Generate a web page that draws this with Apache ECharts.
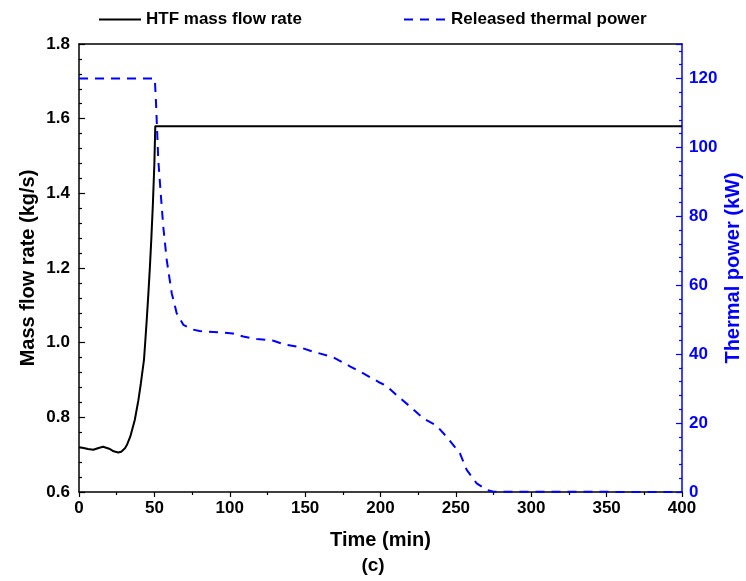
<!DOCTYPE html>
<html>
<head>
<meta charset="utf-8">
<script src="https://cdn.jsdelivr.net/npm/echarts@6/dist/echarts.min.js"></script>
<style>
html,body{margin:0;padding:0;background:#fff;}
#chart{width:746px;height:581px;}
</style>
</head>
<body>
<div id="chart"></div>
<script>
const massTime = [0, 3, 6, 9.5, 13, 16, 20, 23, 26, 28, 30.5, 32, 34, 37, 39.4, 41, 43.1, 44, 45, 46, 47, 48, 49, 50, 50.6, 400];
const massFlow = [0.72, 0.718, 0.715, 0.713, 0.718, 0.721, 0.716, 0.709, 0.706, 0.708, 0.717, 0.728, 0.748, 0.793, 0.846, 0.89, 0.954, 1.005, 1.065, 1.13, 1.2, 1.28, 1.37, 1.48, 1.58, 1.58];
const powerTime = [0, 50, 50.4, 51.1, 52.6, 54.2, 55.9, 58.2, 61.5, 64.8, 69.2, 75, 80, 93.5, 102, 109, 118, 129, 135.5, 146.6, 155.4, 168.7, 180, 188.6, 199.7, 204, 210.7, 219.6, 228.4, 237.3, 243.9, 252.7, 257.2, 263.8, 270.5, 275, 400];
const thermalPower = [120, 120, 119, 112.8, 96.3, 86.7, 77, 67.3, 57.7, 51.9, 48.5, 47.2, 46.7, 46.3, 46.0, 45.1, 44.4, 43.9, 42.9, 42.0, 40.7, 39.1, 36.4, 34.4, 31.7, 30.8, 28.1, 24.8, 21.4, 19.2, 16.0, 11.2, 6.4, 2.5, 0.6, 0.1, 0];
const seriesNames = ['HTF mass flow rate', 'Released thermal power'];
const xTitle = 'Time (min)';
const yLeftTitle = 'Mass flow rate (kg/s)';
const yRightTitle = 'Thermal power (kW)';
const panelLabel = '(c)';

const FONT = '"Liberation Sans", Arial, sans-serif';
const BLUE = '#0000ff';
const chart = echarts.init(document.getElementById('chart'));
const legendText = {fontFamily: FONT, fontWeight: 'bold', fontSize: 17, color: '#000'};
const hiddenSymbol = {color: 'transparent', borderColor: 'transparent', borderWidth: 0, opacity: 0};
chart.setOption({
  animation: false,
  backgroundColor: '#fff',
  textStyle: {fontFamily: FONT},
  grid: {left: 79, right: 64, top: 44, bottom: 89, containLabel: false, outerBoundsMode: 'none'},
  legend: [
    {data: [seriesNames[0]], left: 98, top: 11, padding: 0, itemWidth: 42, itemHeight: 20, itemGap: 6,
     itemStyle: hiddenSymbol, textStyle: legendText},
    {data: [seriesNames[1]], left: 403, top: 11, padding: 0, itemWidth: 42, itemHeight: 20, itemGap: 6,
     itemStyle: hiddenSymbol, textStyle: legendText}
  ],
  xAxis: [
    {type: 'value', min: 0, max: 400, interval: 50, position: 'bottom',
     axisLine: {show: true, lineStyle: {color: '#000', width: 1.5}},
     axisTick: {show: true, inside: false, length: 5, lineStyle: {color: '#000', width: 1.2}},
     minorTick: {show: true, splitNumber: 2, length: 3, lineStyle: {color: '#000', width: 1.2}},
     splitLine: {show: false},
     axisLabel: {fontFamily: FONT, fontWeight: 'bold', fontSize: 17, color: '#000', margin: 8},
     name: xTitle, nameLocation: 'middle', nameGap: 38, nameMoveOverlap: false,
     nameTextStyle: {fontFamily: FONT, fontWeight: 'bold', fontSize: 20, color: '#000'}},
    {type: 'value', min: 0, max: 400, position: 'top',
     axisLine: {show: true, onZero: false, lineStyle: {color: '#000', width: 1.5}},
     axisTick: {show: false}, axisLabel: {show: false}, splitLine: {show: false}}
  ],
  yAxis: [
    {type: 'value', min: 0.6, max: 1.8, interval: 0.2, position: 'left',
     axisLine: {show: true, onZero: false, lineStyle: {color: '#000', width: 1.5}},
     axisTick: {show: true, inside: true, length: 6, lineStyle: {color: '#000', width: 1.2}},
     minorTick: {show: true, splitNumber: 5, length: 3, lineStyle: {color: '#000', width: 1.2}},
     splitLine: {show: false},
     axisLabel: {fontFamily: FONT, fontWeight: 'bold', fontSize: 17, color: '#000', margin: 9,
                 formatter: v => v.toFixed(1)},
     name: yLeftTitle, nameLocation: 'middle', nameGap: 41, nameMoveOverlap: false,
     nameTextStyle: {fontFamily: FONT, fontWeight: 'bold', fontSize: 20, color: '#000'}},
    {type: 'value', min: 0, max: 130, interval: 20, position: 'right',
     axisLine: {show: true, onZero: false, lineStyle: {color: BLUE, width: 1.5}},
     axisTick: {show: true, inside: true, length: 6, lineStyle: {color: BLUE, width: 1.2}},
     minorTick: {show: true, splitNumber: 5, length: 3, lineStyle: {color: BLUE, width: 1.2}},
     splitLine: {show: false},
     axisLabel: {fontFamily: FONT, fontWeight: 'bold', fontSize: 17, color: BLUE, margin: 7,
                 formatter: v => (v % 20 === 0 ? String(v) : '')},
     name: yRightTitle, nameLocation: 'middle', nameGap: 41, nameMoveOverlap: false,
     nameTextStyle: {fontFamily: FONT, fontWeight: 'bold', fontSize: 20, color: BLUE}}
  ],
  graphic: [
    {type: 'text', left: 'center', top: 556,
     style: {text: panelLabel, font: 'bold 19px ' + FONT, fill: '#000'}}
  ],
  series: [
    {name: seriesNames[0], type: 'line', xAxisIndex: 0, yAxisIndex: 0, symbol: 'none', smooth: false,
     data: massTime.map((t, i) => [t, massFlow[i]]),
     lineStyle: {color: '#000', width: 2}, itemStyle: {color: '#000'}, z: 3},
    {name: seriesNames[1], type: 'line', xAxisIndex: 0, yAxisIndex: 1, symbol: 'none', smooth: false,
     data: powerTime.map((t, i) => [t, thermalPower[i]]),
     lineStyle: {color: BLUE, width: 2, type: [9, 7]}, itemStyle: {color: BLUE}, z: 2}
  ]
});
</script>
</body>
</html>
